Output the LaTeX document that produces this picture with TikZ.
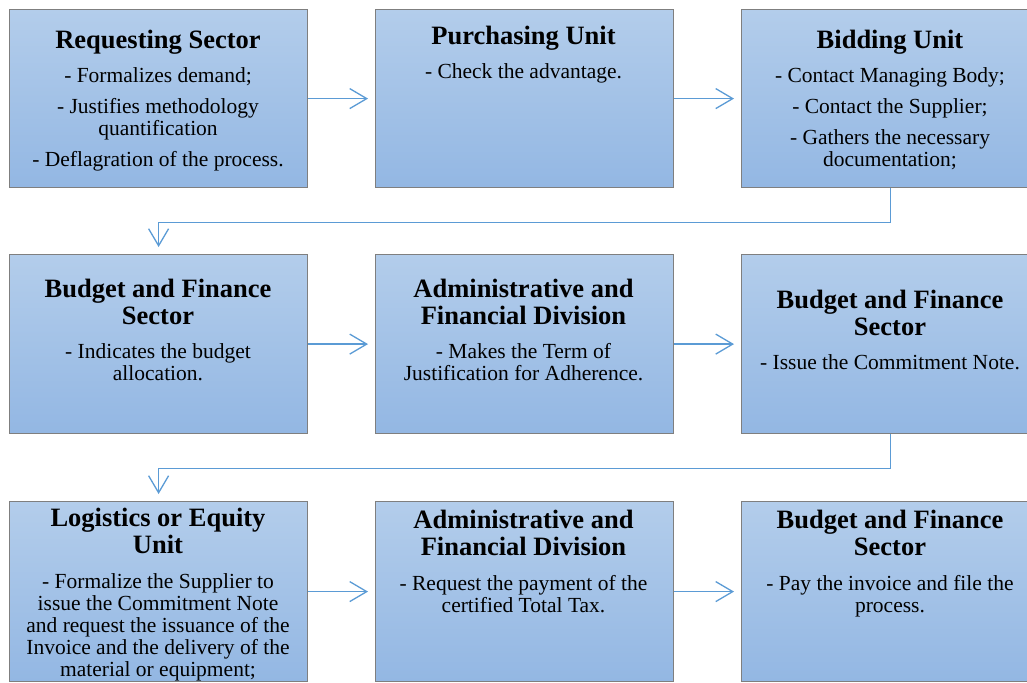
\documentclass[tikz,border=0pt]{standalone}
\usepackage{fontspec}
\setmainfont{Liberation Serif}
\usetikzlibrary{arrows.meta}
\definecolor{boxtop}{HTML}{B3CDEB}
\definecolor{boxbot}{HTML}{93B7E3}
\definecolor{boxline}{HTML}{7F7F7F}
\definecolor{conncol}{HTML}{5B9BD5}
\newcommand\ttl[1]{\spaceskip=0pt\xspaceskip=0pt{\fontsize{26.5}{27}\selectfont\bfseries #1\par}\vspace{12pt}}
\newcommand\itemgap{\par\vspace{9pt}}
\tikzset{
  box/.style={draw=boxline, line width=1.2pt, top color=boxtop, bottom color=boxbot,
    minimum width=298pt, anchor=north west, inner sep=0pt},
  txt/.style={anchor=north, text width=292pt, align=flush center, inner sep=0pt,
    font=\fontsize{21.5}{22}\selectfont},
  conn/.style={draw=conncol, line width=1.3pt, shorten >=7pt,
    -{Straight Barb[length=17pt,width=20pt]}}
}
\begin{document}
\begin{tikzpicture}[x=1pt,y=-1pt]
\useasboundingbox (0,0) rectangle (1027,682);
% row 1
\node[box, minimum height=178pt] (b1) at (9,9) {};
\node[box, minimum height=178pt] (b2) at (375,9) {};
\node[box, minimum height=178pt] (b3) at (741,9) {};
% row 2
\node[box, minimum height=179pt] (b4) at (9,254) {};
\node[box, minimum height=179pt] (b5) at (375,254) {};
\node[box, minimum height=179pt] (b6) at (741,254) {};
% row 3
\node[box, minimum height=180pt] (b7) at (9,501) {};
\node[box, minimum height=180pt] (b8) at (375,501) {};
\node[box, minimum height=180pt] (b9) at (741,501) {};
% texts
\node[txt] (t1) at (158,30) {\ttl{Requesting Sector}- Formalizes demand;\itemgap - Justifies methodology\\ quantification\itemgap - Deflagration of the process.\par};
\node[txt] (t2) at (523.5,26) {\ttl{Purchasing Unit}- Check the advantage.\par};
\node[txt] (t3) at (890,30) {\ttl{Bidding Unit}- Contact Managing Body;\itemgap - Contact the Supplier;\itemgap - Gathers the necessary\\ documentation;\par};
\node[txt] (t4) at (158,279) {\ttl{Budget and Finance\\ Sector}- Indicates the budget\\ allocation.\par};
\node[txt] (t5) at (523.5,279) {\ttl{Administrative and\\ Financial Division}- Makes the Term of\\ Justification for Adherence.\par};
\node[txt] (t6) at (890,290) {\ttl{Budget and Finance\\ Sector}- Issue the Commitment Note.\par};
\node[txt] (t7) at (158,508) {\ttl{Logistics or Equity\\ Unit}\vspace{1pt}- Formalize the Supplier to\\ issue the Commitment Note\\ and request the issuance of the\\ Invoice and the delivery of the\\ material or equipment;\par};
\node[txt] (t8) at (523.5,510) {\ttl{Administrative and\\ Financial Division}\vspace{1pt}- Request the payment of the\\ certified Total Tax.\par};
\node[txt] (t9) at (890,510) {\ttl{Budget and Finance\\ Sector}\vspace{1pt}- Pay the invoice and file the\\ process.\par};
% connectors
\draw[conn] (b1.east) -- (b2.west);
\draw[conn] (b2.east) -- (b3.west);
\draw[conn] (b4.east) -- (b5.west);
\draw[conn] (b5.east) -- (b6.west);
\draw[conn] (b7.east) -- (b8.west);
\draw[conn] (b8.east) -- (b9.west);
\draw[conn] (b3.south) -- ++(0,34) -| (b4.north);
\draw[conn] (b6.south) -- ++(0,34) -| (b7.north);
\end{tikzpicture}
\end{document}
